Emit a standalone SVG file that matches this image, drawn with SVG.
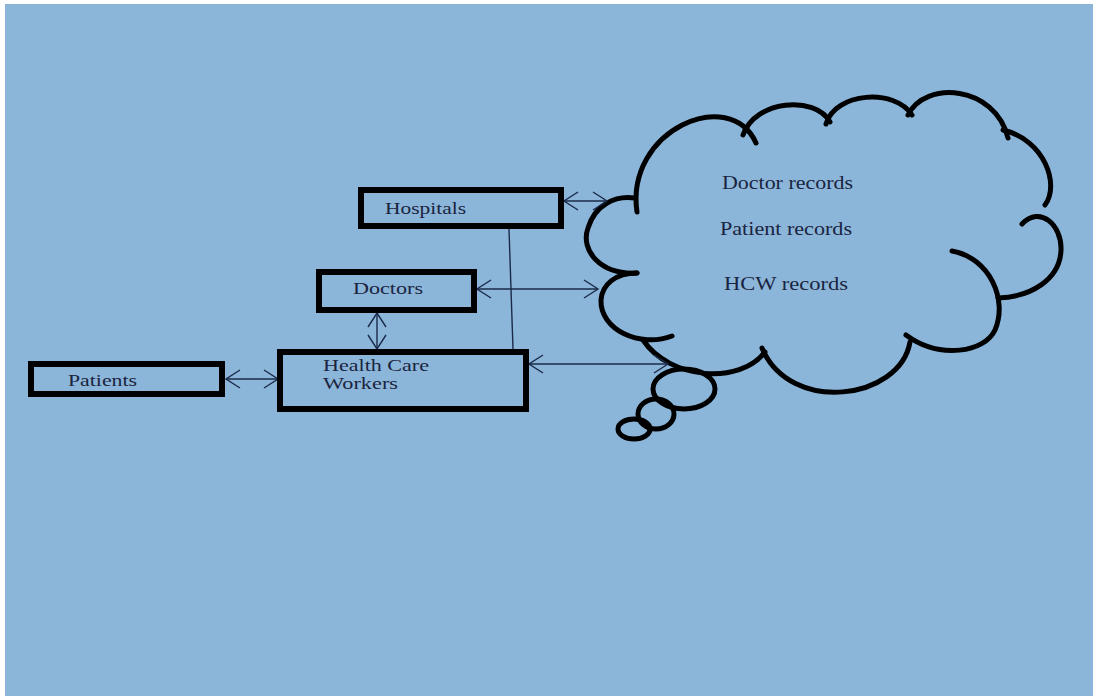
<svg xmlns="http://www.w3.org/2000/svg" width="1093" height="696" viewBox="0 0 1093 696">
<defs>
<style>
.box{fill:none;stroke:#000;stroke-width:6}
.lbl{font-family:"Liberation Serif","Times New Roman",serif;font-size:16px;fill:#1a2440}
.clbl{font-family:"Liberation Serif","Times New Roman",serif;font-size:18px;fill:#1a2440}
.con{fill:none;stroke:#1b2a4a;stroke-width:1.4}
.cloud{fill:none;stroke:#000;stroke-width:5;stroke-linecap:round}
</style>
<marker id="ah" markerUnits="userSpaceOnUse" markerWidth="20" markerHeight="24" viewBox="-16 -12 20 24" refX="0" refY="0" orient="auto-start-reverse">
<path d="M-14,-9 L0,0 L-14,9" fill="none" stroke="#1b2a4a" stroke-width="1.4"/>
</marker>
</defs>
<rect x="0" y="0" width="1093" height="696" fill="#ffffff"/>
<rect x="5" y="4" width="1088" height="692" fill="#8cb6d9"/>

<g id="cloud">
<path class="cloud" d="M637 212 C625 130,730 85,756 143"/>
<path class="cloud" d="M743 135 C755 100,815 95,830 122"/>
<path class="cloud" d="M826 124 C835 92,895 88,912 115"/>
<path class="cloud" d="M908 115 C925 80,995 85,1008 138"/>
<path class="cloud" d="M1003 130 C1045 140,1060 185,1045 205"/>
<path class="cloud" d="M1022 224 C1040 205,1062 225,1061 250 C1060 280,1030 297,998 298"/>
<path class="cloud" d="M952 251 C990 258,1008 300,995 330 C985 352,940 360,906 335"/>
<path class="cloud" d="M910 342 C900 400,790 415,762 348"/>
<path class="cloud" d="M765 352 C740 385,670 380,643 340"/>
<path class="cloud" d="M672 336 C640 348,600 330,601 300 C602 285,615 273,637 273"/>
<path class="cloud" d="M637 273 C600 275,580 250,588 228 C595 205,615 195,635 198"/>
<ellipse class="cloud" cx="684" cy="389" rx="31" ry="20"/>
<ellipse class="cloud" cx="656" cy="414" rx="18" ry="15"/>
<ellipse class="cloud" cx="634" cy="429" rx="16" ry="10"/>
<text class="clbl" x="722" y="189" textLength="131" lengthAdjust="spacingAndGlyphs">Doctor records</text>
<text class="clbl" x="720" y="235" textLength="132" lengthAdjust="spacingAndGlyphs">Patient records</text>
<text class="clbl" x="724" y="290" textLength="124" lengthAdjust="spacingAndGlyphs">HCW records</text>
</g>

<g id="connectors">
<line class="con" x1="564" y1="201" x2="607" y2="201" marker-start="url(#ah)" marker-end="url(#ah)"/>
<line class="con" x1="477" y1="289" x2="598" y2="289" marker-start="url(#ah)" marker-end="url(#ah)"/>
<line class="con" x1="529" y1="364" x2="668" y2="364" marker-start="url(#ah)" marker-end="url(#ah)"/>
<line class="con" x1="377" y1="313" x2="377" y2="349" marker-start="url(#ah)" marker-end="url(#ah)"/>
<line class="con" x1="226" y1="379" x2="278" y2="379" marker-start="url(#ah)" marker-end="url(#ah)"/>
<line class="con" x1="509" y1="229" x2="513" y2="349"/>
</g>

<g id="hospitals">
<rect class="box" x="361" y="190" width="200" height="36"/>
<text class="lbl" x="385" y="214" textLength="81" lengthAdjust="spacingAndGlyphs">Hospitals</text>
</g>
<g id="doctors">
<rect class="box" x="319" y="272" width="155" height="38"/>
<text class="lbl" x="353" y="294" textLength="70" lengthAdjust="spacingAndGlyphs">Doctors</text>
</g>
<g id="hcw">
<rect class="box" x="280" y="352" width="246" height="57"/>
<text class="lbl" x="323" y="371" textLength="106" lengthAdjust="spacingAndGlyphs">Health Care</text>
<text class="lbl" x="323" y="389" textLength="75" lengthAdjust="spacingAndGlyphs">Workers</text>
</g>
<g id="patients">
<rect class="box" x="31" y="364" width="191" height="30"/>
<text class="lbl" x="68" y="386" textLength="69" lengthAdjust="spacingAndGlyphs">Patients</text>
</g>
</svg>
